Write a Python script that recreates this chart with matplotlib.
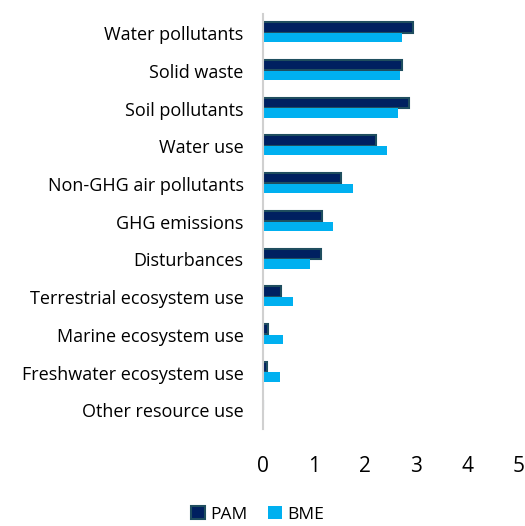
import numpy as np
import matplotlib.pyplot as plt

# categorie e valori
categories = ['Water pollutants', 'Solid waste', 'Soil pollutants', 'Water use',
              'Non-GHG air pollutants', 'GHG emissions', 'Disturbances',
              'Terrestrial ecosystem use', 'Marine ecosystem use',
              'Freshwater ecosystem use', 'Other resource use']
pam = [2.94, 2.73, 2.87, 2.22, 1.53, 1.16, 1.14, 0.35, 0.10, 0.07, 0.0]
bme = [2.73, 2.68, 2.65, 2.42, 1.77, 1.37, 0.93, 0.58, 0.39, 0.33, 0.0]
x_ticks = [0, 1, 2, 3, 4, 5]

plt.rcParams['font.family'] = ['Open Sans', 'DejaVu Sans']

fig = plt.figure(figsize=(5.25, 5.26), dpi=100)
ax = fig.add_axes([0.501, 0.184, 0.486, 0.789])

y = np.arange(len(categories))
ax.barh(y - 0.15, pam, height=0.27, color='#002060', edgecolor='#1F4E5F',
        linewidth=1.5, label='PAM')
ax.barh(y + 0.12, bme, height=0.25, color='#00B0F0', label='BME')

ax.set_ylim(len(categories) - 0.5, -0.5)
ax.set_xlim(0, 5)
ax.set_yticks(y)
ax.set_yticklabels(categories, fontsize=13)
ax.set_xticks(x_ticks)
ax.set_xticklabels([str(t) for t in x_ticks], fontsize=15)
ax.tick_params(axis='y', length=0, pad=14)
ax.tick_params(axis='x', length=0, pad=19)

for s in ['top', 'right', 'bottom']:
    ax.spines[s].set_visible(False)
ax.spines['left'].set_color('#D0D0D0')
ax.spines['left'].set_linewidth(1.5)

fig.legend(loc='center', bbox_to_anchor=(0.49, 0.022), ncol=2, frameon=False,
           fontsize=12.5, handlelength=0.8, handleheight=0.8, columnspacing=1.2,
           handletextpad=0.3)

plt.savefig('out.png', dpi=100)
